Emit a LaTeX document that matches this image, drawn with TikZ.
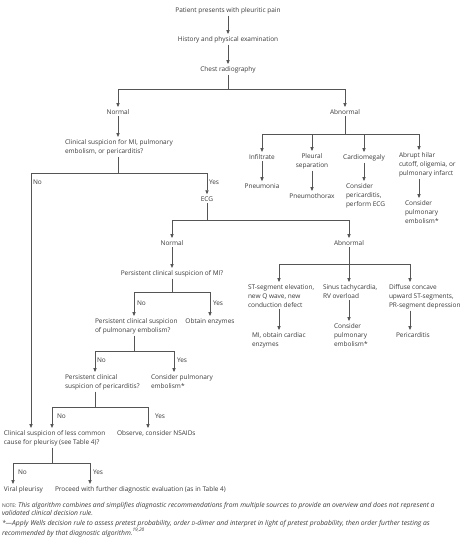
\documentclass[tikz,border=0pt]{standalone}
\usepackage{fontspec}
\setmainfont{Open Sans}
\usetikzlibrary{arrows.meta}
\definecolor{txt}{HTML}{3A3A3A}
\definecolor{ln}{HTML}{555555}
\begin{document}
\begin{tikzpicture}[x=1pt,y=-1pt,
  every node/.style={font=\fontsize{6.5}{9}\selectfont, text=txt, inner sep=0pt, outer sep=2pt},
  lbl/.style={anchor=base},
  lft/.style={anchor=base west, align=left},
  ctr/.style={anchor=base, align=center},
  yn/.style={anchor=base west, outer sep=0pt},
  conn/.style={draw=ln, line width=0.8pt},
  arr/.style={conn, -{Triangle[length=4pt,width=3.2pt]}},
  notefont/.style={font=\fontsize{6.75}{8}\selectfont\itshape, anchor=base west, align=left, outer sep=0pt}]
\useasboundingbox[fill=white] (0,0) rectangle (474,544);

% main spine
\node[lbl] (p1) at (228,12) {Patient presents with pleuritic pain};
\node[lbl] (p2) at (228,41) {History and physical examination};
\node[lbl] (p3) at (228,71) {Chest radiography};
\draw[arr] (p1.south) -- (p2.north);
\draw[arr] (p2.south) -- (p3.north);
\coordinate (t0) at (228,89);
\node[lbl] (nrm1) at (118,114) {Normal};
\node[lbl] (abn1) at (345,114) {Abnormal};
\draw[conn] (p3.south) -- (t0);
\draw[arr] (t0) -| (nrm1.north);
\draw[arr] (t0) -| (abn1.north);

% left branch
\node[lft] (q1) at (63,153) {Clinical suspicion for MI, pulmonary\\embolism, or pericarditis?};
\draw[arr] (nrm1.south) -- (nrm1.south |- q1.north);
\coordinate (t1) at (118,173);
\coordinate (cNo) at (31,173);
\draw[conn] (q1.south -| t1) -- (t1);
\node[lbl] (ecg) at (207,201) {ECG};
\draw[arr] (t1) -| (ecg.north);
\node[yn] (no1) at (33,184) {No};
\node[yn] (yes1) at (209,184) {Yes};

\coordinate (t2) at (207,220);
\node[lbl] (nrm2) at (172,245) {Normal};
\node[lbl] (abn2) at (349,245) {Abnormal};
\draw[conn] (ecg.south) -- (t2);
\draw[arr] (t2) -| (nrm2.north);
\draw[arr] (t2) -| (abn2.north);

\node[lbl] (pmi) at (172,275) {Persistent clinical suspicion of MI?};
\draw[arr] (nrm2.south) -- (pmi.north);
\coordinate (t3) at (172,292);
\coordinate (t3L) at (134,292);
\draw[conn] (pmi.south) -- (t3);
\node[lbl] (enz) at (210,323) {Obtain enzymes};
\node[lft] (pe) at (93,332) {Persistent clinical suspicion\\of pulmonary embolism?};
\draw[arr] (t3) -| (pe.north -| t3L);
\draw[arr] (t3) -| (enz.north);
\node[yn] (no2) at (137,305) {No};
\node[yn] (yes2) at (213,305) {Yes};

\coordinate (t4) at (134,351);
\coordinate (t4L) at (95,351);
\coordinate (t4R) at (174,351);
\draw[conn] (pe.south -| t4) -- (t4);
\node[lft] (pc) at (63,388) {Persistent clinical\\suspicion of pericarditis?};
\node[lft] (cpe1) at (149,388) {Consider pulmonary\\embolism*};
\draw[arr] (t4) -| (pc.north -| t4L);
\draw[arr] (t4) -| (cpe1.north -| t4R);
\node[yn] (no3) at (97,362) {No};
\node[yn] (yes3) at (177,362) {Yes};

\coordinate (t5) at (95,407);
\coordinate (t5L) at (52,407);
\coordinate (t5R) at (148,407);
\draw[conn] (pc.south -| t5) -- (t5);
\node[lft] (lc) at (2,444) {Clinical suspicion of less common\\cause for pleurisy (see Table 4)?};
\node[lft] (obs) at (115,435) {Observe, consider NSAIDs};
\draw[arr] (t5) -| (lc.north -| t5L);
\draw[arr] (t5) -| (obs.north -| t5R);
\draw[arr] (t1) -| (lc.north -| cNo);
\node[yn] (no4) at (57,418) {No};
\node[yn] (yes4) at (155,418) {Yes};

\coordinate (t6) at (52,463);
\coordinate (t6L) at (13,463);
\coordinate (t6R) at (90,463);
\draw[conn] (lc.south -| t6) -- (t6);
\node[lft] (viral) at (2,491) {Viral pleurisy};
\node[lft] (proc) at (53,491) {Proceed with further diagnostic evaluation (as in Table 4)};
\draw[arr] (t6) -| (viral.north -| t6L);
\draw[arr] (t6) -| (proc.north -| t6R);
\node[yn] (no5) at (18,474) {No};
\node[yn] (yes5) at (93,474) {Yes};

% right branch (chest radiography abnormal)
\coordinate (t7) at (345,134);
\coordinate (c3) at (364,134);
\coordinate (c4) at (419,134);
\draw[conn] (abn1.south) -- (t7);
\node[lbl] (inf) at (262,159) {Infiltrate};
\node[ctr] (pl) at (312,167) {Pleural\\separation};
\node[lbl] (card) at (364,159) {Cardiomegaly};
\node[lft] (abr) at (397,175) {Abrupt hilar\\cutoff, oligemia, or\\pulmonary infarct};
\draw[arr] (t7) -| (inf.north);
\draw[arr] (t7) -| (pl.north);
\draw[arr] (t7) -| (card.north);
\draw[arr] (t7) -| (abr.north -| c4);
\node[lbl] (pneu) at (262,188) {Pneumonia};
\node[lbl] (ptx) at (312,198) {Pneumothorax};
\node[lft] (cpc) at (344,206) {Consider\\pericarditis,\\perform ECG};
\node[lft] (cpe2) at (403,223) {Consider\\pulmonary\\embolism*};
\draw[arr] (inf.south) -- (pneu.north);
\draw[arr] (pl.south) -- (ptx.north);
\draw[arr] (card.south) -- (cpc.north -| c3);
\draw[arr] (abr.south -| c4) -- (cpe2.north -| c4);

% ECG abnormal
\coordinate (t8) at (349,264);
\coordinate (d1) at (279,264);
\coordinate (d3) at (410,264);
\draw[conn] (abn2.south) -- (t8);
\node[lft] (st) at (246,307) {ST-segment elevation,\\new Q wave, new\\conduction defect};
\node[lft] (sin) at (321,298) {Sinus tachycardia,\\RV overload};
\node[lft] (dif) at (387,307) {Diffuse concave\\upward ST-segments,\\PR-segment depression};
\draw[arr] (t8) -| (st.north -| d1);
\draw[arr] (t8) -- (sin.north -| t8);
\draw[arr] (t8) -| (dif.north -| d3);
\node[lft] (mi) at (250,346) {MI, obtain cardiac\\enzymes};
\node[lft] (cpe3) at (332,346) {Consider\\pulmonary\\embolism*};
\node[lft] (peri) at (394,337) {Pericarditis};
\draw[arr] (st.south -| d1) -- (mi.north -| d1);
\draw[arr] (sin.south -| t8) -- (cpe3.north -| t8);
\draw[arr] (dif.south -| d3) -- (peri.north -| d3);

% notes
\node[notefont] (note) at (2,515) {{\upshape\fontsize{5}{8}\selectfont NOTE:} This algorithm combines and simplifies diagnostic recommendations from multiple sources to provide an overview and does not represent a\\validated clinical decision rule.};
\node[notefont] (foot) at (2,535) {*---Apply Wells decision rule to assess pretest probability, order {\fontsize{5.3}{8}\selectfont D}-dimer and interpret in light of pretest probability, then order further testing as\\recommended by that diagnostic algorithm.\textsuperscript{19,20}};
\end{tikzpicture}
\end{document}
